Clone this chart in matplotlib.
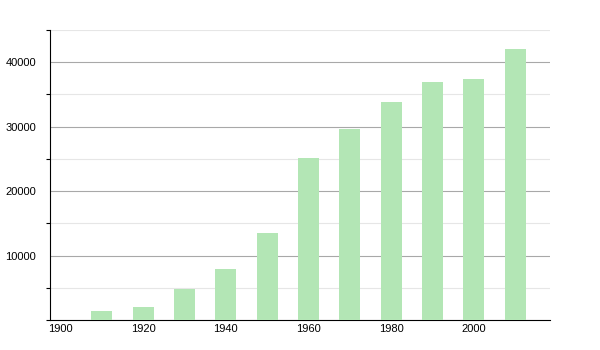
import numpy as np
import matplotlib.pyplot as plt
from matplotlib.ticker import MultipleLocator

# population by decade
years = [1910, 1920, 1930, 1940, 1950, 1960, 1970, 1980, 1990, 2000, 2010]
population = [1400, 2020, 4770, 7930, 13530, 25200, 29700, 33750, 36900, 37430, 42000]
xticks = [1900, 1920, 1940, 1960, 1980, 2000]

plt.rcParams['font.family'] = ['Liberation Sans', 'DejaVu Sans']

fig = plt.figure(figsize=(6, 3.5), dpi=100)
ax = fig.add_axes([50/600, 30/350, 500/600, 290/350])

ax.bar(years, population, width=5.1, color='#b3e6b5', zorder=3)

ax.set_xlim(1897.5, 2018.4)
ax.set_ylim(0, 45000)
ax.set_xticks(xticks)
ax.set_xticklabels([str(y) for y in xticks])
ax.yaxis.set_major_locator(MultipleLocator(10000))
ax.yaxis.set_minor_locator(MultipleLocator(5000))
ax.set_yticks([10000, 20000, 30000, 40000])

ax.grid(axis='y', which='major', color='#a8a8a8', linewidth=0.8, zorder=1)
ax.grid(axis='y', which='minor', color='#e6e6e6', linewidth=0.8, zorder=1)

for s in ['top', 'right']:
    ax.spines[s].set_visible(False)
ax.spines['left'].set_color('black')
ax.spines['bottom'].set_color('black')

ax.tick_params(axis='x', length=0, labelsize=8, pad=3)
ax.tick_params(axis='y', which='major', length=0, labelsize=8, pad=10)
ax.tick_params(axis='y', which='minor', length=3, width=0.8)

fig.savefig('out.png', dpi=100)
